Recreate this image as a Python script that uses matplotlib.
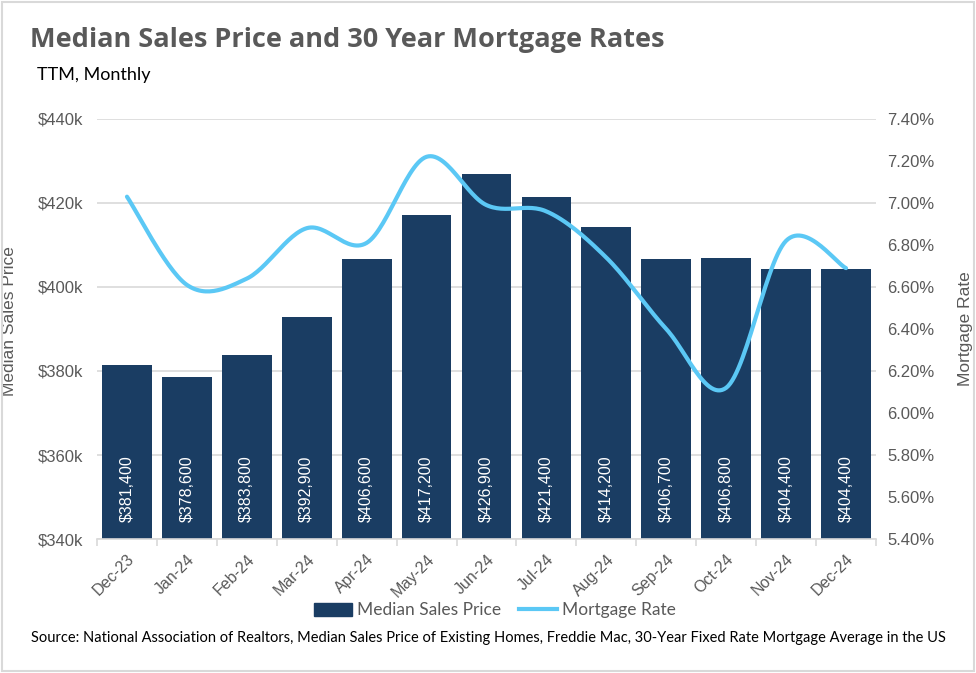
import matplotlib
matplotlib.use("Agg")
import matplotlib.pyplot as plt
import numpy as np
from matplotlib.ticker import FuncFormatter, MultipleLocator
from matplotlib.patches import Rectangle
from matplotlib.lines import Line2D

months = ["Dec-23", "Jan-24", "Feb-24", "Mar-24", "Apr-24", "May-24", "Jun-24",
          "Jul-24", "Aug-24", "Sep-24", "Oct-24", "Nov-24", "Dec-24"]
sales_price = [381400, 378600, 383800, 392900, 406600, 417200, 426900,
               421400, 414200, 406700, 406800, 404400, 404400]
mortgage_rate = [7.03, 6.61, 6.64, 6.88, 6.81, 7.22, 6.99,
                 6.96, 6.74, 6.40, 6.12, 6.82, 6.69]

BAR = "#1a3d63"
LINE = "#5bc8f5"
GREY = "#595959"
GRID = "#d9d9d9"

plt.rcParams["font.family"] = ["Liberation Sans", "DejaVu Sans"]


def smooth(xs, ys, n=30):
    # Catmull-Rom style smoothing, like Excel's "smoothed line"
    xs = np.asarray(xs, float)
    ys = np.asarray(ys, float)
    px = np.concatenate([[xs[0]], xs, [xs[-1]]])
    py = np.concatenate([[ys[0]], ys, [ys[-1]]])
    outx, outy = [], []
    for i in range(1, len(px) - 2):
        p0, p1, p2, p3 = (np.array([px[j], py[j]]) for j in range(i - 1, i + 3))
        c1 = p1 + (p2 - p0) / 6
        c2 = p2 - (p3 - p1) / 6
        t = np.linspace(0, 1, n)[:, None]
        pts = (1 - t) ** 3 * p1 + 3 * (1 - t) ** 2 * t * c1 + 3 * (1 - t) * t ** 2 * c2 + t ** 3 * p2
        outx.extend(pts[:, 0])
        outy.extend(pts[:, 1])
    return np.array(outx), np.array(outy)


fig = plt.figure(figsize=(9.76, 6.73), dpi=100)
fig.patches.append(Rectangle((0.002, 0.003), 0.996, 0.994, transform=fig.transFigure,
                             fill=False, edgecolor=GRID, linewidth=1.5))

ax = fig.add_axes([0.0994, 0.1991, 0.7981, 0.6241])
x = np.arange(len(months))
ax.bar(x, sales_price, width=0.83, color=BAR, zorder=2)
ax.set_xlim(-0.5, len(months) - 0.5)
ax.set_ylim(340000, 440000)
ax.yaxis.set_major_locator(MultipleLocator(20000))
ax.yaxis.set_major_formatter(FuncFormatter(lambda v, p: f"${v/1000:.0f}k"))
ax.grid(axis="y", color=GRID, linewidth=1.2, zorder=0)
ax.set_axisbelow(True)
for s in ["top", "right", "left"]:
    ax.spines[s].set_visible(False)
ax.spines["bottom"].set_color(GRID)
ax.spines["bottom"].set_linewidth(1.2)
ax.set_xticks(x)
ax.set_xticklabels(months, rotation=45, ha="right", rotation_mode="anchor",
                   color=GREY, fontsize=11.5)
ax.tick_params(axis="x", length=0, pad=9)
ax.set_xticks(np.arange(-0.5, len(months)), minor=True)
ax.tick_params(axis="x", which="minor", length=5, color=GRID, width=1.2)
ax.tick_params(axis="y", length=0, labelcolor=GREY, labelsize=12, pad=10)
ax.set_ylabel("Median Sales Price", color=GREY, fontsize=12.5)
ax.yaxis.set_label_coords(-0.103, 0.52)

for xi, v in zip(x, sales_price):
    ax.text(xi, 344000, f"${v:,}", rotation=90, ha="center", va="bottom",
            color="white", fontsize=11.5, zorder=3)

ax2 = ax.twinx()
ax2.set_ylim(5.4, 7.4)
ax2.yaxis.set_major_locator(MultipleLocator(0.2))
ax2.yaxis.set_major_formatter(FuncFormatter(lambda v, p: f"{v:.2f}%"))
for s in ["top", "right", "left", "bottom"]:
    ax2.spines[s].set_visible(False)
ax2.tick_params(axis="y", length=0, labelcolor=GREY, labelsize=12, pad=8)
ax2.set_ylabel("Mortgage Rate", color=GREY, fontsize=12.5)
ax2.yaxis.set_label_coords(1.105, 0.5)
sx, sy = smooth(x, mortgage_rate)
ax2.plot(sx, sy, color=LINE, linewidth=3, solid_capstyle="round", zorder=4)

fig.text(0.031, 0.94, "Median Sales Price and 30 Year Mortgage Rates",
         fontsize=19.5, fontweight="bold", color=GREY, family="Open Sans", va="center")
fig.text(0.038, 0.889, "TTM, Monthly", fontsize=13, color="black", family="Lato", va="center")

handles = [Rectangle((0, 0), 1, 1, color=BAR),
           Line2D([0], [0], color=LINE, linewidth=3)]
fig.legend(handles, ["Median Sales Price", "Mortgage Rate"], loc="center",
           bbox_to_anchor=(0.507, 0.093), ncol=2, frameon=False,
           labelcolor=GREY, handlelength=2.2, handleheight=0.8, handletextpad=0.3,
           columnspacing=1.0, prop={"family": "Lato", "size": 12.5})
fig.text(0.5, 0.052, "Source: National Association of Realtors, Median Sales Price of Existing Homes, "
         "Freddie Mac, 30-Year Fixed Rate Mortgage Average in the US",
         ha="center", va="center", fontsize=10.5, family="Lato", color="black")

fig.savefig("out.png", dpi=100)
